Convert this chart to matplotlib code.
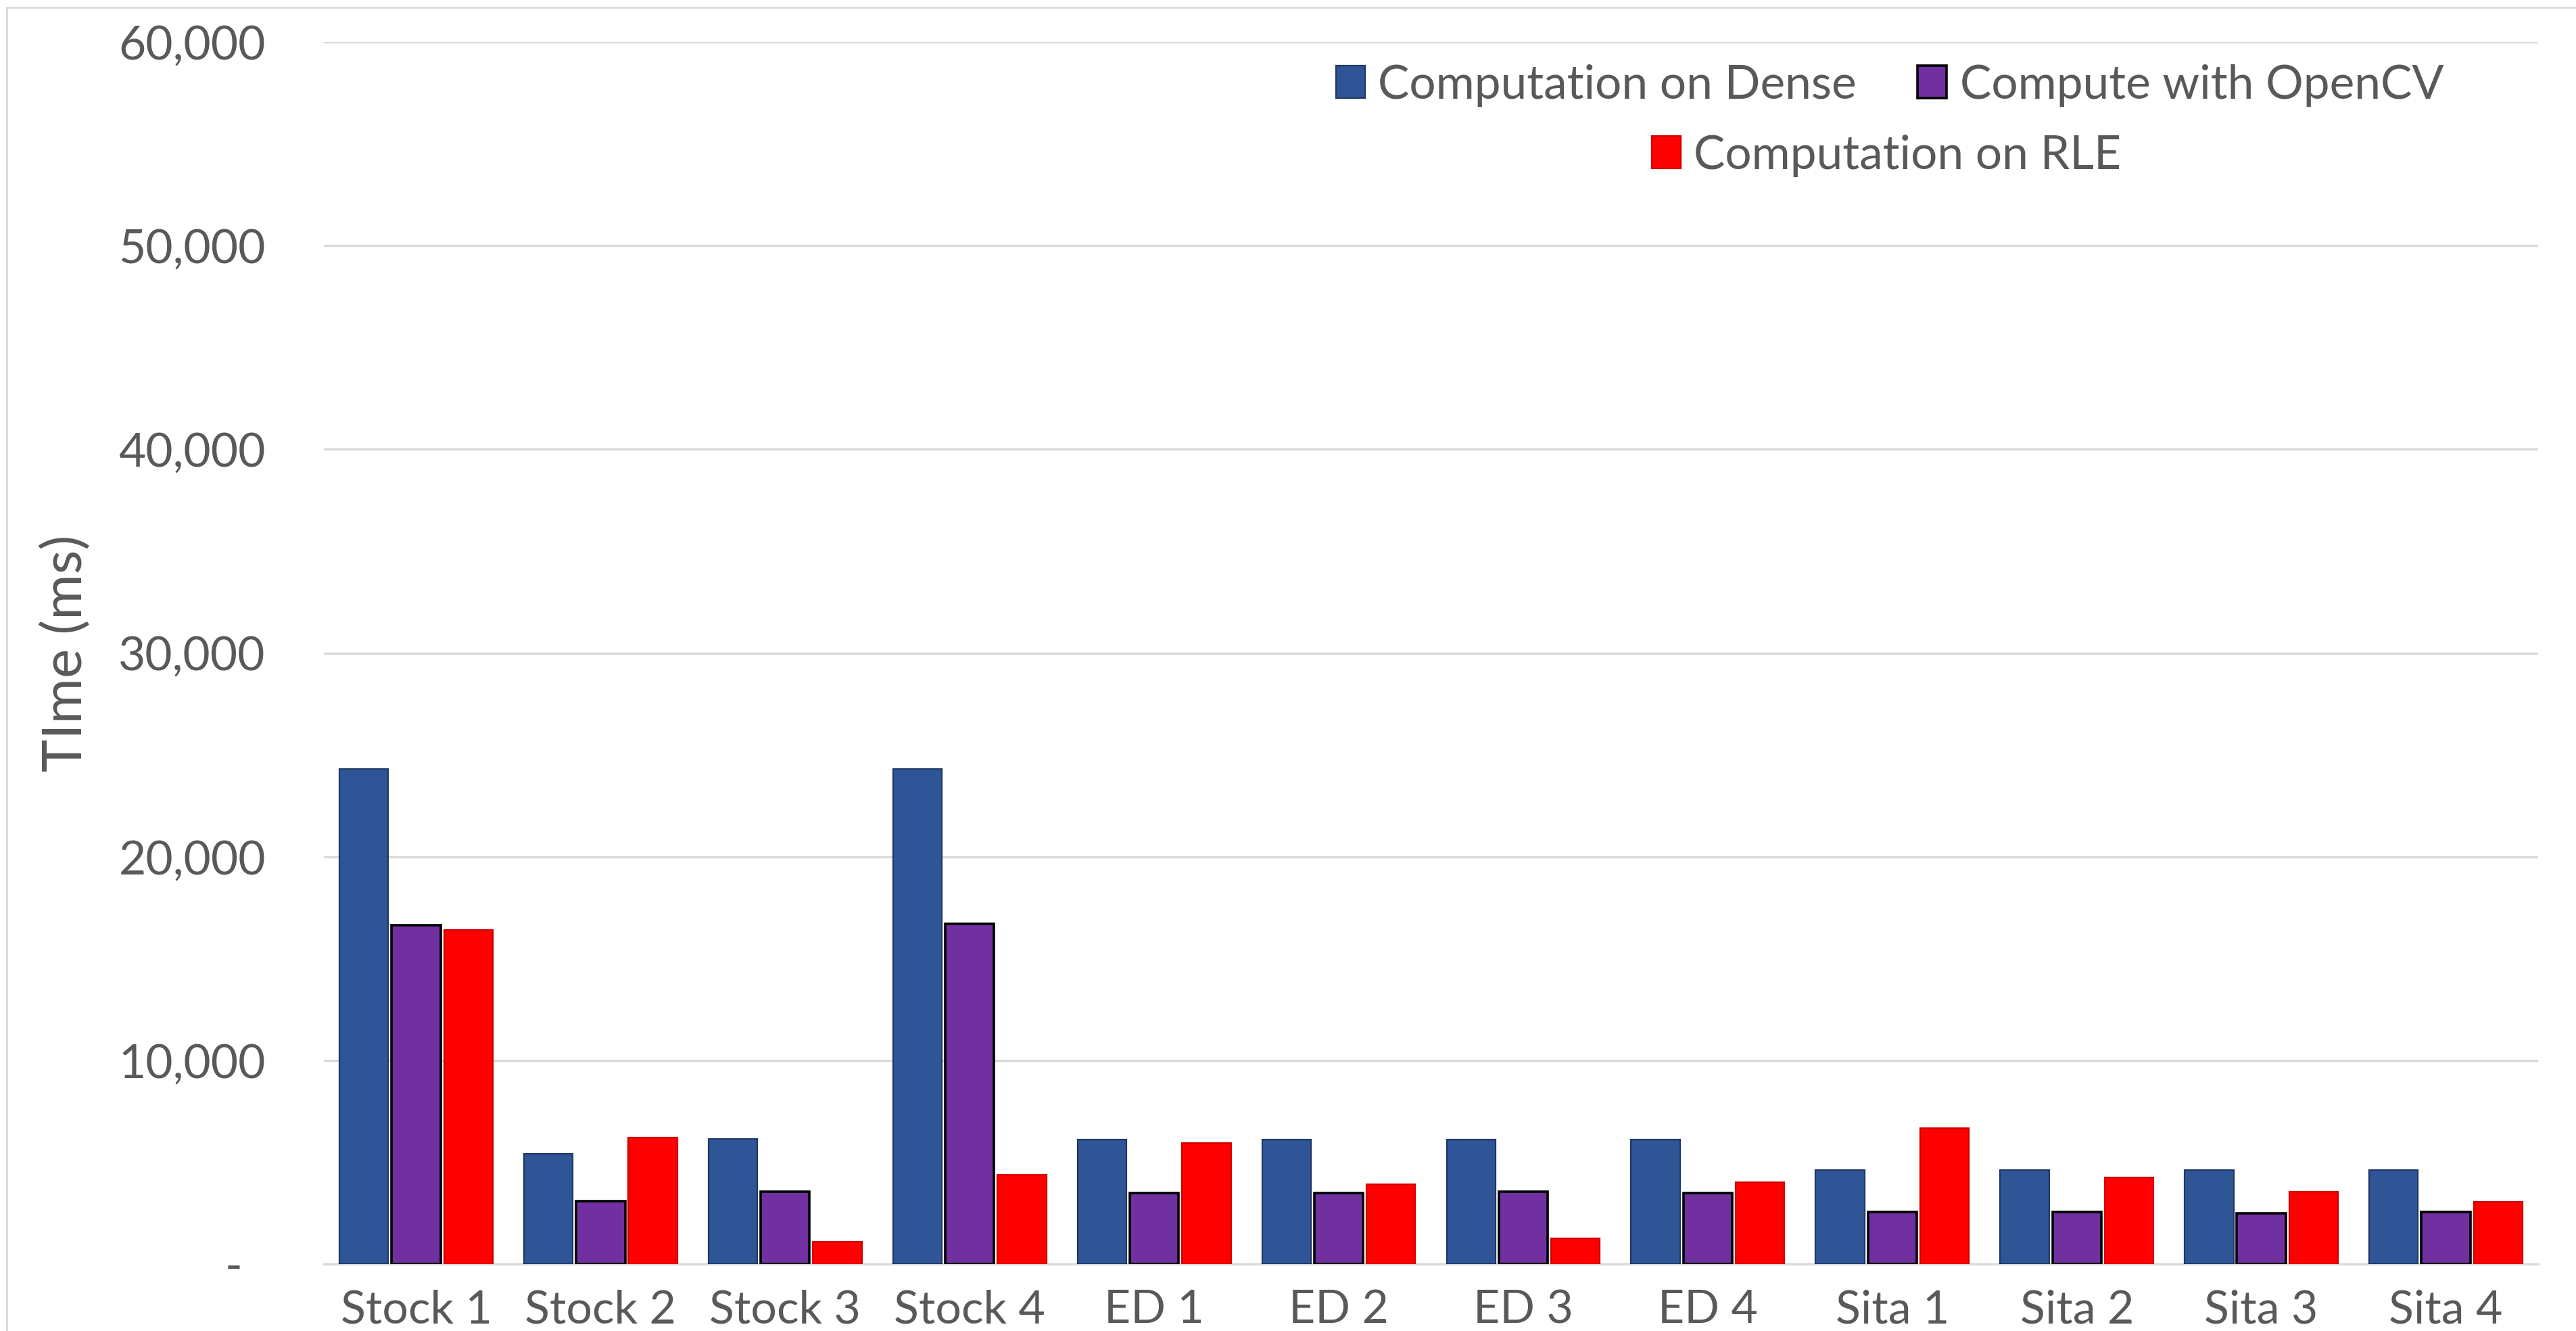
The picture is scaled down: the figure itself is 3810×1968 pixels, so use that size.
import matplotlib
matplotlib.use("Agg")
import matplotlib.pyplot as plt
import matplotlib.transforms as mtransforms
from matplotlib.lines import Line2D
from matplotlib.ticker import FuncFormatter
import numpy as np

# chart data
categories = ['Stock 1', 'Stock 2', 'Stock 3', 'Stock 4', 'ED 1', 'ED 2',
              'ED 3', 'ED 4', 'Sita 1', 'Sita 2', 'Sita 3', 'Sita 4']
dense = [24300, 5400, 6150, 24300, 6100, 6100, 6100, 6100, 4620, 4620, 4620, 4620]
opencv = [16650, 3080, 3550, 16700, 3500, 3500, 3540, 3500, 2560, 2560, 2500, 2560]
rle = [16400, 6200, 1090, 4390, 5940, 3920, 1270, 4030, 6680, 4240, 3550, 3060]
series_names = ['Computation on Dense', 'Compute with OpenCV', 'Computation on RLE']
y_ticks = [0, 10000, 20000, 30000, 40000, 50000, 60000]

text_col = '#595959'
grid_col = '#D9D9D9'

plt.rcParams['font.family'] = ['Lato', 'DejaVu Sans']

DPI = 200
fig = plt.figure(figsize=(3810 / DPI, 1968 / DPI), dpi=DPI)
ax = fig.add_axes([479 / 3810, 1 - 1869 / 1968, (3754 - 479) / 3810, (1869 - 62) / 1968])

x = np.arange(len(categories))
w = 0.265
step = 0.283
b1 = ax.bar(x - step, dense, w, color='#2F5597', edgecolor='#1F3864', linewidth=0.8,
            label=series_names[0], zorder=3)
b2 = ax.bar(x, opencv, w, color='#7030A0', edgecolor='black', linewidth=1.3,
            label=series_names[1], zorder=3)
b3 = ax.bar(x + step, rle, w, color='#FF0000', edgecolor='#D00000', linewidth=0.8,
            label=series_names[2], zorder=3)

ax.set_xlim(-0.5, len(categories) - 0.5)
ax.set_ylim(0, 60000)
ax.set_yticks(y_ticks)
ax.yaxis.set_major_formatter(FuncFormatter(lambda v, p: '-' if v == 0 else f'{int(v):,}'))
ax.set_xticks(x)
ax.set_xticklabels(categories)
ax.grid(axis='y', color=grid_col, linewidth=1.2, zorder=0)
for s in ['top', 'right', 'left']:
    ax.spines[s].set_visible(False)
ax.spines['bottom'].set_color(grid_col)
ax.spines['bottom'].set_linewidth(1.2)
ax.tick_params(axis='both', length=0, colors=text_col)
ax.tick_params(axis='y', pad=31, labelsize=25)
ax.tick_params(axis='x', pad=13.5, labelsize=24.5)

# zero label sits further left like Excel's accounting format
zero_lbl = ax.get_yticklabels()[0]
zero_lbl.set_transform(zero_lbl.get_transform() +
                       mtransforms.ScaledTranslation(-35 / DPI, 0, fig.dpi_scale_trans))

ax.set_ylabel('TIme (ms)', fontsize=29.5, color=text_col)
ax.yaxis.set_label_coords(-0.105, 0.5)

# legend: two entries on the first row, one centred below
leg_kw = dict(frameon=False, fontsize=25, labelcolor=text_col, handlelength=0.62,
              handleheight=0.68, handletextpad=0.28, columnspacing=1.3,
              borderpad=0, borderaxespad=0, loc='center')
leg1 = fig.legend([b1, b2], series_names[:2], ncol=2,
                  bbox_to_anchor=(2795 / 3810, 1 - 126 / 1968), **leg_kw)
leg2 = fig.legend([b3], series_names[2:], ncol=1,
                  bbox_to_anchor=(2790 / 3810, 1 - 230 / 1968), **leg_kw)

# chart area border (left and top edges visible)
fig.add_artist(Line2D([10 / 3810, 10 / 3810], [0, 1 - 11 / 1968], transform=fig.transFigure,
                      color=grid_col, linewidth=1.0))
fig.add_artist(Line2D([10 / 3810, 1], [1 - 11 / 1968, 1 - 11 / 1968], transform=fig.transFigure,
                      color=grid_col, linewidth=1.0))

fig.savefig('out.png', dpi=DPI)
